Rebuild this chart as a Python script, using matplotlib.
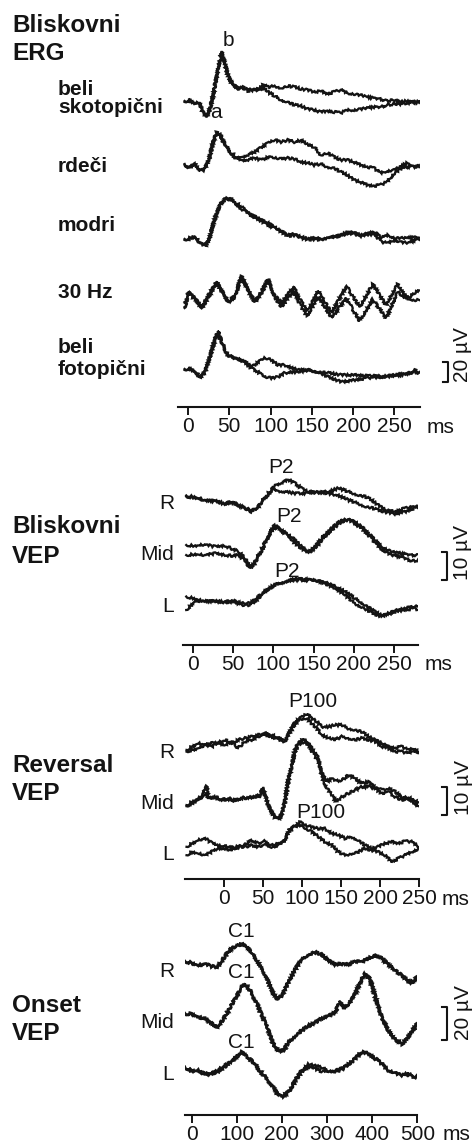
import matplotlib
matplotlib.use("Agg")
import matplotlib.pyplot as plt

plt.rcParams['font.family'] = ['Liberation Sans', 'DejaVu Sans']

W, H = 476, 1144

# ---------------- DATA (time in ms, amplitude in µV) ----------------
# Bliskovni ERG
erg_rows = ["beli skotopični", "rdeči", "modri", "30 Hz", "beli fotopični"]
erg_ticks = [0, 50, 100, 150, 200, 250]
erg1_t = [-4, 2, 8, 14, 18, 23, 27, 31, 35, 39, 41, 45, 49, 55, 61, 67, 73, 79, 85, 91, 97, 105, 113, 121, 129, 137, 145, 153, 161, 169, 177, 185, 193, 201, 209, 217, 225, 233, 241, 249, 257, 265, 273, 280]
erg1_a = [0, 2.5, -2, 0, -10, -15, -6, 8, 27, 42, 51, 38, 26, 17, 14, 14, 12, 13, 12, 17, 15, 16, 14, 16, 15, 13, 12, 10, 11, 8, 10, 12, 9, 8, 7, 5, 4, 3, 1, 2, 0, 1, -1, 0]
erg1_b = [1, 1, -1, -1, -11, -14, -5, 9, 28, 43, 50, 37, 25, 16, 13, 15, 11, 12, 13, 14, 10, 6, 2, 0, -3, -4, -7, -8, -10, -9, -10, -11, -8, -8, -7, -6, -5, -5, -3, -2, -2, -1, 0, 0]
erg2_t = [-4, 2, 8, 14, 20, 25, 31, 35, 40, 47, 53, 59, 65, 73, 81, 89, 97, 105, 113, 121, 129, 137, 145, 153, 161, 169, 177, 185, 193, 201, 209, 217, 225, 233, 241, 249, 257, 265, 273, 280]
erg2_a = [0, -3, 2, -6, -5, 5, 25, 32, 28, 18, 12, 7, 8, 10, 13, 18, 22, 25, 23, 25, 23, 25, 20, 18, 10, 12, 8, 5, 5, 3, 0, -2, -3, -8, -6, -5, -2, 2, -2, -1]
erg2_b = [1, -2, 1, -5, -4, 4, 24, 33, 30, 17, 11, 6, 5, 5, 7, 5, 8, 7, 6, 7, 6, 3, 2, 0, 1, -2, -3, -7, -10, -15, -17, -20, -21, -20, -17, -9, -4, -2, -1, -1]
erg3_t = [-4, 2, 8, 14, 21, 25, 29, 33, 39, 45, 51, 57, 65, 73, 81, 89, 97, 105, 113, 121, 130, 138, 146, 154, 162, 170, 178, 186, 194, 202, 210, 218, 226, 234, 242, 250, 258, 267, 275, 280]
erg3_a = [0, 2, 3, -2, -6, -2, 12, 23, 35, 41, 42, 38, 33, 28, 23, 20, 17, 13, 8, 5, 6, 2, 1, 2, 1, 3, 3, 5, 8, 7, 4, 7, 8, 2, 5, 2, 2, 2, 3, 2]
erg3_b = [1, 1, 4, -3, -5, -1, 11, 22, 36, 42, 40, 37, 31, 27, 22, 19, 15, 12, 9, 4, 5, 3, 0, 1, 0, 3, 4, 4, 7, 6, 5, 5, 6, -2, -3, 0, -2, -3, 0, 1]
erg4_t = [-4, 1, 8, 17, 25, 35, 43, 49, 57, 65, 73, 81, 89, 97, 105, 113, 128, 136, 144, 158, 166, 174, 192, 200, 208, 224, 232, 240, 254, 262, 268, 280]
erg4_a = [-13, 4, -5, -13, -2, 13, 0, -7, 0, 19, 4, -7, 3, 15, 0, -8, 8, -5, -16, 4, -7, -18, 9, -2, -12, 11, 0, -10, 11, 0, -2, 5]
erg4_b = [-12, 3, -3, -12, 0, 13, 2, -7, -2, 18, 5, -7, 2, 16, -2, -12, 4, -10, -21, -2, -12, -23, -3, -15, -26, -4, -14, -23, 3, -2, -5, -5]
erg5_t = [-4, 2, 8, 15, 21, 27, 33, 37, 41, 47, 53, 61, 69, 77, 85, 93, 101, 109, 117, 126, 134, 146, 158, 170, 186, 202, 218, 234, 250, 267, 275, 280]
erg5_a = [0, 2, -2, -8, -2, 15, 32, 38, 28, 17, 13, 12, 8, 3, 8, 12, 10, 5, 5, 2, 0, 0, -2, -3, -5, -5, -6, -6, -5, -4, 0, -3]
erg5_b = [1, 1, -1, -7, -1, 14, 31, 39, 27, 16, 12, 11, 7, 2, -2, -7, -8, -7, -3, -2, -2, 0, -2, -7, -12, -10, -8, -7, -6, -3, -2, -3]

# Bliskovni VEP
vep_rows = ["R", "Mid", "L"]
flash_ticks = [0, 50, 100, 150, 200, 250]
fR_t = [-8, 3, 15, 28, 40, 48, 57, 65, 73, 81, 90, 98, 102, 110, 119, 127, 135, 143, 156, 168, 181, 193, 205, 214, 222, 230, 239, 251, 263, 276, 280]
fR_a = [0, -0.4, -1.2, -1.8, -2.7, -1.8, -3, -4.2, -5.4, -3.6, -0.6, 2.4, 4.2, 4.8, 6, 4.8, 3, 1.8, 1.5, 1.8, 3, 1.8, 0.6, 0, -1.2, -3, -4.8, -5.4, -4.2, -3.6, -4]
fR_b = [0.4, -0.2, -1.5, -1.5, -2.4, -2, -3.2, -4, -5, -3.8, 0, 2.4, 2.4, 1.8, 1.5, 1.2, 1.2, 1.2, 1.5, 1.2, 0.4, -1.2, -2.4, -3.5, -4, -4.8, -5.5, -6.2, -5.5, -4, -3.6]
fM_t = [-8, 3, 15, 28, 40, 48, 57, 65, 71, 77, 86, 94, 102, 110, 119, 127, 135, 144, 152, 160, 168, 177, 185, 193, 201, 210, 218, 226, 235, 247, 259, 272, 280]
fM_a = [1.8, 1.5, 2, 1.2, 1.5, 0.6, -0.6, -3, -6, -4.2, 0.6, 5.4, 9, 7.1, 5.4, 3.6, 1.2, -0.6, 0.6, 3.6, 6, 8.3, 10.1, 10.9, 10.1, 8.3, 6, 3.6, 1.2, -0.6, -1.2, -1.8, -1.8]
fM_b = [-1.8, -1.5, -1.8, -1.2, -1.8, -2, -1.8, -3.6, -6.5, -4.8, 0, 4.8, 8.3, 7.1, 4.8, 2.4, 0.6, -0.8, 1.2, 4.2, 7.1, 8.9, 10.7, 10.9, 9.5, 7.7, 5.4, 2.7, 0.2, -1.8, -2.4, -3.9, -3.6]
fL_t = [-8, 3, 15, 28, 40, 52, 61, 69, 77, 86, 94, 102, 115, 127, 139, 152, 164, 177, 189, 201, 214, 226, 235, 243, 251, 263, 276, 280]
fL_a = [1.8, 1, 0, 0.2, 0, 0.2, -0.6, -0.6, 0.6, 3, 4.8, 6, 7.1, 8.1, 8.1, 7.4, 6.9, 5.4, 3.6, 1.2, -1.2, -3.6, -5, -4.5, -3.6, -3, -2.4, -3]
fL_b = [-3, 0.2, 0.2, 0, -0.2, 0, -1.2, -1.2, 0, 2.4, 4.5, 6, 7.1, 7.7, 7.7, 7.7, 6.5, 4.8, 2.4, -0.6, -2.6, -4.5, -5.4, -4.2, -3.3, -2.4, -1.8, -1.8]

# Reversal VEP
rev_ticks = [0, 50, 100, 150, 200, 250]
rR_t = [-48, -41, -33, -24, -16, -7, 1, 10, 18, 27, 35, 44, 52, 61, 70, 78, 84, 91, 97, 106, 112, 119, 125, 134, 142, 151, 159, 168, 176, 185, 193, 202, 210, 219, 227, 236, 244, 250]
rR_a = [0, 1.2, 2.4, 1.8, 2.4, 2.6, 3.6, 2.4, 3.6, 4.2, 4.8, 5.4, 6, 5.4, 4.2, 3.6, 6.5, 10.1, 11.3, 12.9, 11.3, 10.1, 8.3, 8.3, 8.9, 8.9, 7.7, 7.1, 6.5, 4.8, 3.6, 2.4, 1.2, 0.6, 1.2, 0, 0.6, -0.6]
rR_b = [-0.6, 0, 0.6, 1.8, 1.2, 2.4, 1.8, 3, 0.6, 3, 3.6, 4.8, 5.4, 4.8, 3.6, 3, 6, 9.5, 10.7, 11.3, 9.5, 7.7, 5.4, 4.2, 3.6, 4.8, 4.2, 3.6, 4.2, 3.6, 3, 1.2, 0.6, -0.6, -0.6, -1.2, 0, -1.2]
rM_t = [-48, -37, -29, -22, -20, -12, -3, 6, 14, 23, 31, 40, 46, 50, 53, 57, 61, 65, 70, 74, 78, 82, 87, 91, 95, 102, 108, 114, 121, 125, 131, 138, 144, 151, 159, 168, 176, 185, 193, 202, 210, 219, 227, 236, 244, 250]
rM_a = [0, 1.8, 3.0, 6.8, 2.4, 3.0, 1.8, 2.4, 1.8, 2.4, 2.7, 3.0, 3.6, 6.5, 3.0, 0, -2.4, -4.2, -4.8, -3.0, 1.8, 8.9, 14.9, 20.2, 22.0, 23.8, 21.4, 18.5, 15.5, 11.9, 8.3, 9.5, 8.7, 8.9, 10.7, 9.5, 7.7, 8.3, 6.5, 5.4, 6.0, 4.8, 3.0, 2.7, 1.8, 0.6]
rM_b = [-0.4, 1.2, 2.7, 4.0, 2.4, 2.7, 2.0, 2.0, 1.5, 2.7, 2.4, 3.2, 3.2, 6.0, 2.7, -0.4, -2.7, -4.4, -5.1, -3.6, 1.2, 8.3, 14.3, 19.0, 21.4, 22.6, 22.0, 19.6, 16.7, 10.1, 6.5, 3.6, 1.2, 3.0, 4.2, 5.4, 6.5, 6.5, 6.0, 4.2, 4.8, 3.0, 1.8, 2.4, 0.6, -0.6]
rL_t = [-48, -41, -33, -24, -16, -7, 1, 10, 18, 27, 35, 44, 52, 61, 70, 78, 84, 91, 97, 104, 112, 121, 129, 138, 146, 155, 163, 172, 180, 189, 197, 206, 215, 223, 232, 240, 250]
rL_a = [0, 1.2, 2.4, 3.0, 1.4, 0.4, 0.2, -0.2, 0, 0.8, 2.4, 1.2, 2.0, 0.6, 1.1, 2.7, 6.0, 7.1, 8.9, 7.7, 7.1, 6.5, 6.5, 4.8, 4.2, 3.0, 3.6, 2.4, 0.6, -0.6, 0, 1.2, 1.8, 1.2, 2.0, 1.8, 0]
rL_b = [-3.0, -1.8, -2.4, -3.0, -1.8, -0.6, -0.6, -1.2, 0, 0, 0.6, 0, 0.8, 0, 0.6, 2.4, 6.0, 7.7, 7.7, 6.5, 5.4, 3.6, 1.8, 0.6, -1.8, -3.0, -2.4, -1.8, -0.6, -1.2, -1.8, -3.0, -5.4, -4.2, -3.0, -1.8, -0.6]

# Onset VEP
onset_ticks = [0, 100, 200, 300, 400, 500]
oR_t = [-15, 0, 15, 30, 44, 55, 66, 81, 96, 111, 122, 133, 148, 163, 177, 188, 200, 214, 229, 244, 259, 273, 288, 303, 318, 333, 347, 362, 377, 392, 407, 421, 436, 451, 466, 480, 492, 500]
oR_a = [0, -1.0, -2.0, -1.0, -3.0, -4.0, 0, 6.1, 9.1, 11.1, 9.1, 5.1, -1.0, -8.1, -17.2, -23.2, -20.2, -12.1, -5.1, 2.0, 4.0, 6.1, 4.0, 1.0, -2.0, -1.0, -2.0, 0, 0, 2.0, 4.0, 2.0, -2.0, -5.1, -8.1, -12.1, -13.1, -9.1]
oR_b = [0.5, -0.5, -2.5, -1.5, -2.5, -3.5, 0.5, 6.5, 9.5, 10.5, 9.5, 5.5, -0.5, -8.5, -16.5, -22.5, -20.8, -12.5, -4.5, 1.5, 4.5, 5.5, 4.5, 0.5, -1.5, -1.5, -1.5, 0.5, -0.5, 2.5, 3.5, 2.5, -1.5, -5.5, -8.5, -11.5, -12.5, -8.5]
oM_t = [-15, 0, 15, 30, 44, 55, 66, 81, 96, 111, 118, 129, 144, 159, 170, 181, 192, 203, 214, 229, 244, 259, 273, 288, 303, 318, 329, 336, 347, 362, 377, 384, 395, 407, 421, 436, 451, 466, 480, 492, 500]
oM_a = [0, -1.0, -2.0, -4.0, -6.1, -9.1, -5.1, 1.0, 9.1, 16.2, 18.2, 14.1, 6.1, -3.0, -11.1, -19.2, -23.2, -22.8, -18.2, -14.1, -10.1, -8.1, -6.1, -3.0, -2.0, 1.0, 7.1, 3.0, 5.1, 11.1, 20.2, 24.2, 20.2, 9.1, -3.0, -11.1, -16.2, -19.2, -14.1, -10.1, -7.1]
oM_b = [-1, 0, -3, -3, -7, -8.5, -5.5, 1.5, 8.5, 15.5, 17.5, 13.5, 5.5, -3.5, -10.5, -18.5, -22.5, -23.5, -17.5, -13.5, -11, -7.5, -5.5, -3.5, -1.5, 0, 6.5, 3.5, 5.5, 12, 21, 23.5, 21, 10, -2, -10.5, -15.5, -18.5, -15, -9, -6]
oL_t = [-15, 0, 15, 30, 44, 59, 74, 89, 103, 111, 122, 137, 151, 166, 181, 192, 203, 218, 229, 244, 259, 273, 288, 303, 318, 333, 347, 362, 377, 392, 407, 421, 436, 451, 466, 480, 495, 500]
oL_a = [0, -1.0, -2.0, -4.0, -3.0, -1.0, 2.0, 4.0, 8.1, 10.1, 7.1, 4.0, -1.0, -6.1, -12.1, -16.2, -17.2, -14.1, -8.1, -2.0, 1.0, 0, -2.0, -1.6, -1.0, 0, 2.0, 6.1, 10.1, 9.1, 6.1, 3.0, -1.0, -3.0, -4.0, -3.0, -6.1, -5.1]
oL_b = [1, -2, -1, -3, -4, -2, 1, 5, 7.5, 9.5, 7.5, 3, -2, -6.5, -11.5, -16.5, -16.5, -13, -7, -1, 2.5, 1.5, 0.5, -1.5, -2, -1, 2.5, 5.5, 9.5, 8.5, 5.5, 2.5, -1.5, -2.5, -4.5, -3.5, -5.5, -4.5]

# ---------------- LAYOUT / STYLE ----------------
INK = '#141414'
LW = 1.65
fig = plt.figure(figsize=(W / 100, H / 100), dpi=100)
fig.patch.set_facecolor('white')


def add_ax(x0, x1, ytop, ybot):
    return fig.add_axes([x0 / W, 1 - ybot / H, (x1 - x0) / W, (ybot - ytop) / H])


def T(x, y, s, **kw):
    kw.setdefault('color', INK)
    kw.setdefault('va', 'baseline')
    fig.text(x / W, 1 - y / H, s, **kw)


def style_axis(ax, ticks):
    for side in ('left', 'right', 'top'):
        ax.spines[side].set_visible(False)
    ax.spines['bottom'].set_linewidth(1.5)
    ax.spines['bottom'].set_color(INK)
    ax.set_yticks([])
    ax.set_xticks(ticks)
    ax.set_xticklabels([str(t) for t in ticks])
    ax.tick_params(axis='x', direction='out', length=6, width=1.4, colors=INK,
                   labelsize=15, pad=1)
    ax.patch.set_alpha(0)


def trace(ax, t, v, off):
    ln, = ax.plot(t, [off + a for a in v], color=INK, lw=LW, solid_joinstyle='miter')
    ln.set_sketch_params(scale=1.1, length=2.5, randomness=3)


def scale_bar(ax, x, tick, y0, size, label, lx):
    ax.plot([x - tick, x, x, x - tick], [y0 + size, y0 + size, y0, y0],
            color=INK, lw=1.5, clip_on=False)
    ax.text(lx, y0, label, rotation=90, ha='center', va='bottom', fontsize=15,
            color=INK, clip_on=False)


# ---- Panel 1: Bliskovni ERG ----
ax1 = add_ax(178, 420, 35, 407)
ax1.set_xlim(-12, 281)
ax1.set_ylim(0, 372)
style_axis(ax1, erg_ticks)
erg_off = [305, 242, 167, 112, 37]
for (t, a, b), off in zip([(erg1_t, erg1_a, erg1_b), (erg2_t, erg2_a, erg2_b),
                           (erg3_t, erg3_a, erg3_b), (erg4_t, erg4_a, erg4_b),
                           (erg5_t, erg5_a, erg5_b)], erg_off):
    trace(ax1, t, a, off)
    trace(ax1, t, b, off)
scale_bar(ax1, 315, 6, 25, 20, '20 µV', 333)

# ---- Panel 2: Bliskovni VEP ----
ax2 = add_ax(182.7, 418.3, 455, 645)
ax2.set_xlim(-12.4, 280)
ax2.set_ylim(0, 190 / 2.8)
style_axis(ax2, flash_ticks)
for (t, a, b), off in zip([(fR_t, fR_a, fR_b), (fM_t, fM_a, fM_b), (fL_t, fL_a, fL_b)],
                          [53.0, 33.9, 15.5]):
    trace(ax2, t, a, off)
    trace(ax2, t, b, off)
scale_bar(ax2, 315.6, 6.2, 23.2, 10, '10 µV', 335.4)

# ---- Panel 3: Reversal VEP ----
ax3 = add_ax(185, 419.3, 690, 879.3)
ax3.set_xlim(-50, 250)
ax3.set_ylim(0, 189.3 / 2.8)
style_axis(ax3, rev_ticks)
for (t, a, b), off in zip([(rR_t, rR_a, rR_b), (rM_t, rM_a, rM_b), (rL_t, rL_a, rL_b)],
                          [46.2, 26.5, 11.6]):
    trace(ax3, t, a, off)
    trace(ax3, t, b, off)
scale_bar(ax3, 285.5, 6.4, 23.0, 10, '10 µV', 306)

# ---- Panel 4: Onset VEP ----
ax4 = add_ax(185, 417.3, 915, 1115)
ax4.set_xlim(-15, 500)
ax4.set_ylim(0, 200 / 1.65)
style_axis(ax4, onset_ticks)
for (t, a, b), off in zip([(oR_t, oR_a, oR_b), (oM_t, oM_a, oM_b), (oL_t, oL_a, oL_b)],
                          [92.9, 61.8, 28.3]):
    trace(ax4, t, a, off)
    trace(ax4, t, b, off)
scale_bar(ax4, 566, 11, 45.5, 20, '20 µV', 601.5)

# ---------------- TEXT ----------------
TB = dict(fontsize=17.5, fontweight='bold')
T(12, 32, 'Bliskovni', **TB)
T(12, 60, 'ERG', **TB)
T(12, 533, 'Bliskovni', **TB)
T(12, 563, 'VEP', **TB)
T(12, 772, 'Reversal', **TB)
T(12, 800, 'VEP', **TB)
T(12, 1012, 'Onset', **TB)
T(12, 1040, 'VEP', **TB)

RB = dict(fontsize=15, fontweight='bold')
T(58, 95, 'beli', **RB)
T(58, 113, 'skotopični', **RB)
T(58, 172, 'rdeči', **RB)
T(58, 231, 'modri', **RB)
T(58, 298, '30 Hz', **RB)
T(58, 353, 'beli', **RB)
T(58, 375, 'fotopični', **RB)

N = dict(fontsize=15)
T(228, 46, 'b', ha='center', **N)
T(216, 118, 'a', ha='center', **N)

for y, lab in zip([509, 560, 612], vep_rows):
    T(174, y, lab, ha='right', **N)
for y, lab in zip([758, 809, 860], vep_rows):
    T(174, y, lab, ha='right', **N)
for y, lab in zip([977, 1028, 1080], vep_rows):
    T(174, y, lab, ha='right', **N)

T(281, 473, 'P2', ha='center', **N)
T(289, 522, 'P2', ha='center', **N)
T(287.5, 577, 'P2', ha='center', **N)
T(312.5, 707, 'P100', ha='center', **N)
T(321, 818, 'P100', ha='center', **N)
T(241, 937, 'C1', ha='center', **N)
T(241, 978, 'C1', ha='center', **N)
T(241, 1048, 'C1', ha='center', **N)

T(427, 433, 'ms', **N)
T(425, 670, 'ms', **N)
T(442, 905, 'ms', **N)
T(443, 1140, 'ms', **N)

fig.savefig('out.png', dpi=100, facecolor='white')
